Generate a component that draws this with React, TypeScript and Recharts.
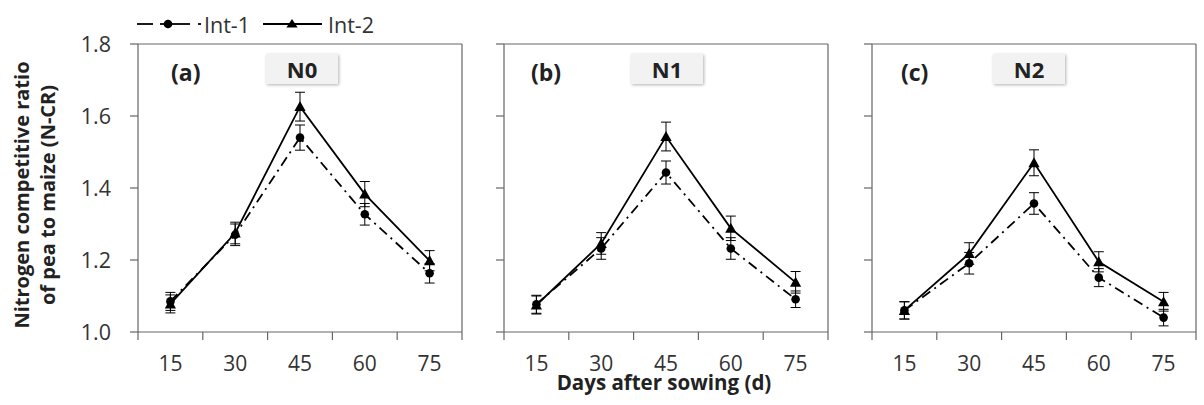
import React from 'react';
import { LineChart, Line, XAxis, YAxis, ErrorBar, ReferenceLine } from 'recharts';

const days = [15, 30, 45, 60, 75];
const bandEdges = [7.5, 22.5, 37.5, 52.5, 67.5, 82.5];
const yTicks = [1.0, 1.2, 1.4, 1.6, 1.8];
const panelLetters = ['(a)', '(b)', '(c)'];
const panelNames = ['N0', 'N1', 'N2'];

const int1N0 = [1.085, 1.27, 1.54, 1.327, 1.163];
const int1N0Err = [0.025, 0.03, 0.035, 0.03, 0.027];
const int2N0 = [1.078, 1.275, 1.626, 1.383, 1.198];
const int2N0Err = [0.025, 0.03, 0.04, 0.035, 0.028];

const int1N1 = [1.077, 1.232, 1.443, 1.232, 1.091];
const int1N1Err = [0.025, 0.03, 0.032, 0.03, 0.023];
const int2N1 = [1.075, 1.246, 1.543, 1.288, 1.138];
const int2N1Err = [0.025, 0.03, 0.04, 0.034, 0.03];

const int1N2 = [1.06, 1.191, 1.357, 1.151, 1.04];
const int1N2Err = [0.024, 0.03, 0.03, 0.025, 0.023];
const int2N2 = [1.06, 1.218, 1.47, 1.195, 1.084];
const int2N2Err = [0.024, 0.03, 0.036, 0.028, 0.026];

const seriesByPanel = [
  [int1N0, int1N0Err, int2N0, int2N0Err],
  [int1N1, int1N1Err, int2N1, int2N1Err],
  [int1N2, int1N2Err, int2N2, int2N2Err],
];

const FONT = '"Open Sans", "Noto Sans", sans-serif';
const AXIS = '#666666';
const TEXT = '#333333';

const plotLefts = [138, 504, 872];
const letterOffsets = [33, 27, 29];
const boxOffsets = [128, 127, 121];
const YW = 70;
const PLOT_W = 324;

const Circle = (props: any) => {
  const { cx, cy, index } = props;
  if (cx == null || cy == null) return <g key={`c${index}`} />;
  return <circle key={`c${index}`} cx={cx} cy={cy} r={4.3} fill="#000" />;
};

const Tri = (props: any) => {
  const { cx, cy, index } = props;
  if (cx == null || cy == null) return <g key={`t${index}`} />;
  const s = 5.6;
  return (
    <path
      key={`t${index}`}
      d={`M${cx},${cy - s} L${cx + s},${cy + s * 0.8} L${cx - s},${cy + s * 0.8} Z`}
      fill="#000"
    />
  );
};

const XTick = (props: any) => {
  const { x, y, payload } = props;
  const v = payload.value;
  if (days.includes(v)) {
    return (
      <text x={x} y={y + 39} textAnchor="middle" fontSize={21} fill={TEXT} fontFamily={FONT}>
        {v}
      </text>
    );
  }
  return <line x1={x} y1={y} x2={x} y2={y + 8} stroke={AXIS} strokeWidth={1.2} />;
};

function Panel({ idx }: { idx: number }) {
  const [a, ae, b, be] = seriesByPanel[idx];
  const data = days.map((d, i) => ({ day: d, i1: a[i], e1: ae[i], i2: b[i], e2: be[i] }));
  const left = plotLefts[idx] - YW;
  return (
    <div style={{ position: 'absolute', left, top: 0 }}>
      <LineChart
        width={YW + PLOT_W + 8}
        height={405}
        data={data}
        margin={{ top: 44, right: 8, bottom: 43, left: 0 }}
      >
        <XAxis
          dataKey="day"
          type="number"
          domain={[7.5, 82.5]}
          ticks={[...bandEdges, ...days].sort((p, q) => p - q)}
          interval={0}
          tickLine={false}
          tickSize={0}
          tickMargin={0}
          height={30}
          axisLine={{ stroke: AXIS, strokeWidth: 1.2 }}
          tick={<XTick />}
          allowDataOverflow
        />
        <YAxis
          type="number"
          domain={[1.0, 1.8]}
          ticks={yTicks}
          interval={0}
          width={YW}
          tickSize={8}
          tickMargin={19}
          tickLine={{ stroke: AXIS, strokeWidth: 1.2 }}
          axisLine={{ stroke: AXIS, strokeWidth: 1.2 }}
          tick={{ fontSize: 21.5, fill: TEXT, fontFamily: FONT }}
          tickFormatter={(v: number) => (idx === 0 ? v.toFixed(1) : '')}
          allowDataOverflow
        />
        <ReferenceLine y={1.8} stroke={AXIS} strokeWidth={1.2} />
        <ReferenceLine x={82.5} stroke={AXIS} strokeWidth={1.2} />
        <Line
          dataKey="i1"
          stroke="#000"
          strokeWidth={1.8}
          strokeDasharray="10 5 2 5"
          dot={<Circle />}
          isAnimationActive={false}
        >
          <ErrorBar dataKey="e1" width={5} stroke="#000" strokeWidth={1} direction="y" />
        </Line>
        <Line
          dataKey="i2"
          stroke="#000"
          strokeWidth={1.8}
          dot={<Tri />}
          isAnimationActive={false}
        >
          <ErrorBar dataKey="e2" width={5} stroke="#000" strokeWidth={1} direction="y" />
        </Line>
      </LineChart>
      <div
        style={{
          position: 'absolute',
          left: YW + letterOffsets[idx],
          top: 57,
          fontFamily: FONT,
          fontWeight: 700,
          fontSize: 23,
          color: '#222',
          lineHeight: '30px',
        }}
      >
        {panelLetters[idx]}
      </div>
      <div
        style={{
          position: 'absolute',
          left: YW + boxOffsets[idx],
          top: 54,
          width: 72,
          height: 30,
          background: '#f2f2f2',
          boxShadow: '1px 1px 3px rgba(0,0,0,0.3)',
          fontFamily: FONT,
          fontWeight: 700,
          fontSize: 22,
          color: '#222',
          lineHeight: '30px',
          textAlign: 'center',
        }}
      >
        {panelNames[idx]}
      </div>
    </div>
  );
}

export default function App() {
  return (
    <div
      style={{
        position: 'absolute',
        left: 0,
        top: 0,
        width: 1204,
        height: 405,
        background: '#fff',
        overflow: 'hidden',
      }}
    >
      {[0, 1, 2].map((i) => (
        <Panel key={i} idx={i} />
      ))}
      <svg
        width={1204}
        height={405}
        style={{ position: 'absolute', left: 0, top: 0, pointerEvents: 'none' }}
      >
        <g fontFamily={FONT} fill={TEXT}>
          <text
            transform="translate(21,195) rotate(-90)"
            textAnchor="middle"
            dominantBaseline="central"
            fontSize={20}
            fontWeight={700}
            fill="#222"
          >
            Nitrogen competitive ratio
          </text>
          <text
            transform="translate(47,195) rotate(-90)"
            textAnchor="middle"
            dominantBaseline="central"
            fontSize={20}
            fontWeight={700}
            fill="#222"
          >
            of pea to maize (N-CR)
          </text>
          <text x={664} y={390} textAnchor="middle" fontSize={20.5} fontWeight={700} fill="#222">
            Days after sowing (d)
          </text>
          {/* legend */}
          <line x1={137} y1={24} x2={153} y2={24} stroke="#000" strokeWidth={1.8} />
          <line x1={160} y1={24} x2={190} y2={24} stroke="#000" strokeWidth={1.8} />
          <circle cx={168} cy={24} r={4.3} fill="#000" />
          <line x1={198} y1={24} x2={201} y2={24} stroke="#000" strokeWidth={1.8} />
          <text x={204} y={24} dominantBaseline="central" fontSize={21.5}>
            Int-1
          </text>
          <line x1={263} y1={24} x2={322} y2={24} stroke="#000" strokeWidth={1.8} />
          <path d="M292,19 L297.6,27.5 L286.4,27.5 Z" fill="#000" />
          <text x={328} y={24} dominantBaseline="central" fontSize={21.5}>
            Int-2
          </text>
        </g>
      </svg>
    </div>
  );
}
